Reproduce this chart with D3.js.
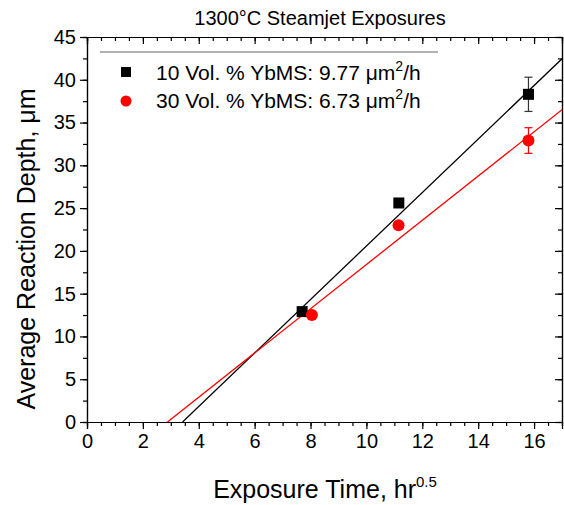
<!DOCTYPE html>
<html>
<head>
<meta charset="utf-8">
<script src="https://cdn.jsdelivr.net/npm/d3@7"></script>
<style>
  body { margin: 0; background: #fff; }
  svg { font-family: "Liberation Sans", Arial, sans-serif; }
</style>
</head>
<body>
<svg id="chart"></svg>
<script>
// series data (x = sqrt hours, y = depth in um)
const series10X = [7.7, 11.16, 15.8];
const series10Y = [12.9, 25.6, 38.3];
const series10Err = [0.3, 0.4, 2.0];
const series30X = [8.05, 11.15, 15.8];
const series30Y = [12.5, 23.0, 32.9];
const series30Err = [0.3, 0.4, 1.5];

// linear fit endpoints
const fit10X = [3.42, 17];
const fit10Y = [0, 42.45];
const fit30X = [2.88, 17];
const fit30Y = [0, 36.5];

const legendLabels = ["10 Vol. % YbMS: 9.77 ", "30 Vol. % YbMS: 6.73 "];
const xTicks = [0, 2, 4, 6, 8, 10, 12, 14, 16];
const yTicks = [0, 5, 10, 15, 20, 25, 30, 35, 40, 45];

const W = 564, H = 505;
const margin = {top: 37, right: 2, bottom: 83, left: 87};
const width = W - margin.left - margin.right;
const height = H - margin.top - margin.bottom;

const svg = d3.select('#chart').attr('width', W).attr('height', H);
const chart = svg.append('g').attr('transform', `translate(${margin.left},${margin.top})`);

const x = d3.scaleLinear().domain([0, 17]).range([0, width]);
const y = d3.scaleLinear().domain([0, 45]).range([height, 0]);

const minorX = d3.range(0, 17.01, 0.5);
const minorY = d3.range(0, 45.01, 2.5);

// bottom axis: ticks outward
const bottomAxisG = chart.append('g').attr('transform', `translate(0,${height})`);
bottomAxisG.call(d3.axisBottom(x).tickValues(minorX).tickSize(4).tickFormat(''));
bottomAxisG.append('g').call(d3.axisBottom(x).tickValues(xTicks).tickSize(7).tickPadding(5).tickFormat(d3.format('d')));
// top axis: ticks pointing down into plot
const topAxisG = chart.append('g');
topAxisG.call(d3.axisBottom(x).tickValues(minorX).tickSize(4).tickFormat(''));
topAxisG.append('g').call(d3.axisBottom(x).tickValues(xTicks).tickSize(7).tickFormat(''));
// left axis: ticks outward
const leftAxisG = chart.append('g');
leftAxisG.call(d3.axisLeft(y).tickValues(minorY).tickSize(4).tickFormat(''));
leftAxisG.append('g').call(d3.axisLeft(y).tickValues(yTicks).tickSize(7).tickPadding(4).tickFormat(d3.format('d')));
// right axis: ticks pointing left into plot
const rightAxisG = chart.append('g').attr('transform', `translate(${width},0)`);
rightAxisG.call(d3.axisLeft(y).tickValues(minorY).tickSize(4).tickFormat(''));
rightAxisG.append('g').call(d3.axisLeft(y).tickValues(yTicks).tickSize(7).tickFormat(''));

chart.selectAll('.domain').attr('stroke', '#000').attr('stroke-width', 1.2);
chart.selectAll('.tick line').attr('stroke', '#000').attr('stroke-width', 1.2);
chart.selectAll('.tick text').style('font-size', '20px').attr('fill', '#000');

// fit lines
chart.append('clipPath').attr('id', 'clip')
  .append('rect').attr('width', width).attr('height', height);
const line = d3.line().x(d => x(d[0])).y(d => y(d[1]));
chart.append('path')
  .datum(d3.zip(fit10X, fit10Y))
  .attr('d', line).attr('fill', 'none').attr('stroke', '#000').attr('stroke-width', 1.3)
  .attr('clip-path', 'url(#clip)');
chart.append('path')
  .datum(d3.zip(fit30X, fit30Y))
  .attr('d', line).attr('fill', 'none').attr('stroke', '#ff0000').attr('stroke-width', 1.3)
  .attr('clip-path', 'url(#clip)');

function drawErr(xs, ys, es, color) {
  const d = xs.map((v, i) => ({x: v, y: ys[i], e: es[i]}));
  const g = chart.append('g').attr('stroke', color).attr('stroke-width', 1.2);
  g.selectAll('.v').data(d).join('line')
    .attr('x1', p => x(p.x)).attr('x2', p => x(p.x))
    .attr('y1', p => y(p.y - p.e)).attr('y2', p => y(p.y + p.e));
  g.selectAll('.t').data(d).join('line')
    .attr('x1', p => x(p.x) - 4).attr('x2', p => x(p.x) + 4)
    .attr('y1', p => y(p.y + p.e)).attr('y2', p => y(p.y + p.e));
  g.selectAll('.b').data(d).join('line')
    .attr('x1', p => x(p.x) - 4).attr('x2', p => x(p.x) + 4)
    .attr('y1', p => y(p.y - p.e)).attr('y2', p => y(p.y - p.e));
}
drawErr(series10X, series10Y, series10Err, '#333');
drawErr(series30X, series30Y, series30Err, '#ff0000');

chart.selectAll('.sq').data(d3.zip(series10X, series10Y)).join('rect')
  .attr('x', d => x(d[0]) - 5.5).attr('y', d => y(d[1]) - 5.5)
  .attr('width', 11).attr('height', 11).attr('fill', '#000');
chart.selectAll('.ci').data(d3.zip(series30X, series30Y)).join('circle')
  .attr('cx', d => x(d[0])).attr('cy', d => y(d[1])).attr('r', 6).attr('fill', '#ff0000');

// legend
const leg = svg.append('g');
leg.append('line').attr('x1', 100).attr('x2', 438).attr('y1', 52).attr('y2', 52)
  .attr('stroke', '#666').attr('stroke-width', 1.2);
leg.append('rect').attr('x', 121).attr('y', 67).attr('width', 10).attr('height', 10).attr('fill', '#000');
leg.append('circle').attr('cx', 126).attr('cy', 101).attr('r', 5.5).attr('fill', '#ff0000');
legendLabels.forEach((t, i) => {
  const tx = leg.append('text').attr('x', 156).attr('y', 80 + i * 28)
    .style('font-size', '21px').attr('fill', '#000');
  tx.append('tspan').text(t);
  tx.append('tspan').text('μm');
  tx.append('tspan').attr('dy', -9).style('font-size', '14px').text('2');
  tx.append('tspan').attr('dy', 9).text('/h');
});

// titles
svg.append('text').attr('x', 320).attr('y', 25).attr('text-anchor', 'middle')
  .style('font-size', '20px').text('1300°C Steamjet Exposures');

const xt = svg.append('text').attr('x', 325).attr('y', 498).attr('text-anchor', 'middle')
  .style('font-size', '25px');
xt.append('tspan').text('Exposure Time, hr');
xt.append('tspan').attr('dy', -11).style('font-size', '15px').text('0.5');

svg.append('text').attr('transform', 'translate(35,249) rotate(-90)').attr('text-anchor', 'middle')
  .style('font-size', '25px').text('Average Reaction Depth, μm');
</script>
</body>
</html>
